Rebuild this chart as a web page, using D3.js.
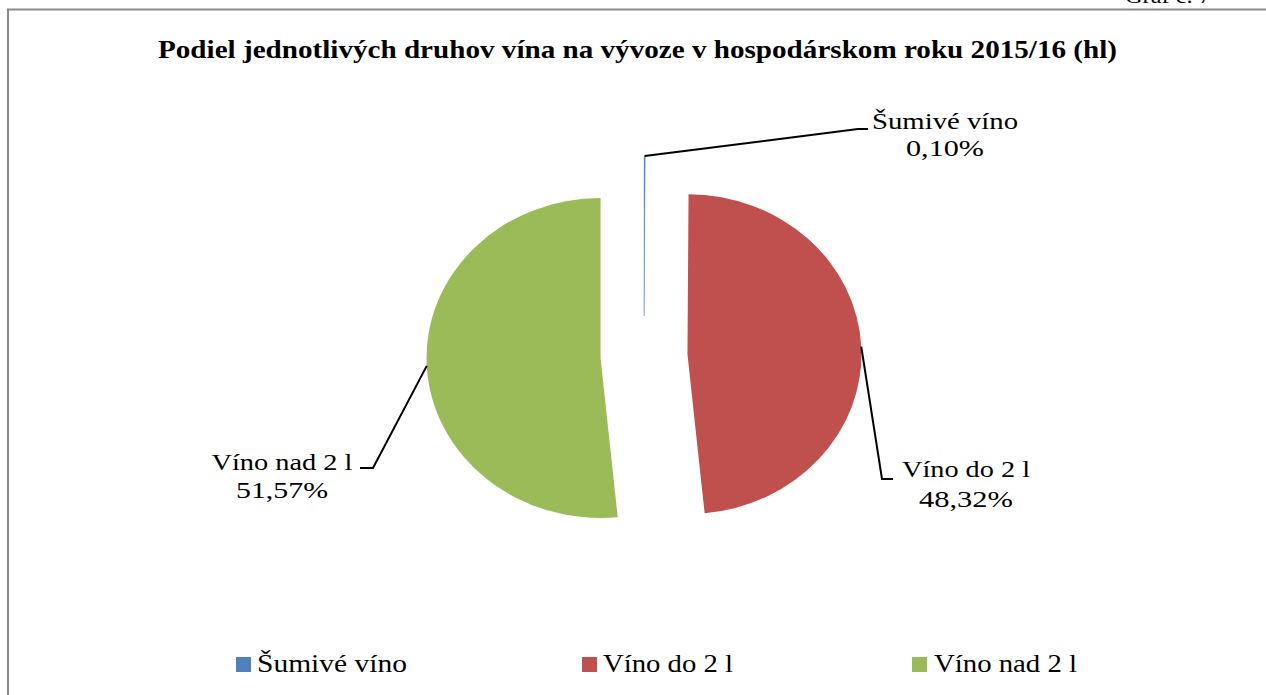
<!DOCTYPE html>
<html>
<head>
<meta charset="utf-8">
<script src="https://cdn.jsdelivr.net/npm/d3@7"></script>
<style>
  html, body { margin: 0; padding: 0; background: #fff; }
  svg { display: block; }
  text { font-family: "Liberation Serif", "Times New Roman", serif; fill: #000; }
</style>
</head>
<body>
<svg id="chart" width="1266" height="695"></svg>
<script>
// ---- data ----
const categories = ["Šumivé víno", "Víno do 2 l", "Víno nad 2 l"];
const shares = [0.10, 48.32, 51.57];
const colors = ["#4F81BD", "#C0504D", "#9BBB59"];
const titleText = "Podiel jednotlivých druhov vína na vývoze v hospodárskom roku 2015/16 (hl)";
const captionText = "Graf č. 7";

// ---- layout ----
const W = 1266, H = 695;
const cx = 644, cy = 356, R = 160, explode = 40, sx = 1.0875;
// label placement: elbow, end of leader, text anchor centre, baselines, text widths
const labelLayout = [
  { elbow: [858, 129], end: [868, 129], tx: 945, b1: 129, b2: 156, w1: 146, w2: 78 },
  { elbow: [882, 479], end: [893, 479], tx: 966, b1: 477, b2: 507, w1: 128, w2: 94 },
  { elbow: [373, 468], end: [360, 468], tx: 282, b1: 470, b2: 498, w1: 141, w2: 92 }
];
const legendLayout = [
  { sq: 236, tx: 257, w: 150 },
  { sq: 582, tx: 603, w: 130 },
  { sq: 912, tx: 934, w: 143 }
];

const fmt = v => d3.format(".2f")(v).replace(".", ",") + "%";

const svg = d3.select("#chart");

// caption (clipped at top)
svg.append("text").attr("x", 1125).attr("y", 3)
  .attr("font-size", 22).attr("textLength", 86).attr("lengthAdjust", "spacingAndGlyphs")
  .text(captionText);

// chart border
svg.append("rect").attr("x", 8).attr("y", 9.5).attr("width", W + 20).attr("height", H + 20)
  .attr("fill", "none").attr("stroke", "#8a8a8a").attr("stroke-width", 2);

// title
svg.append("text").attr("x", 637.5).attr("y", 58)
  .attr("text-anchor", "middle").attr("font-weight", "bold").attr("font-size", 25)
  .attr("textLength", 959).attr("lengthAdjust", "spacingAndGlyphs")
  .text(titleText);

// pie
const pie = d3.pie().sort(null).value(d => d)(shares);
const arc = d3.arc().innerRadius(0).outerRadius(R);
const g = svg.append("g").attr("transform", `translate(${cx},${cy}) scale(${sx},1)`);

function offset(d, r) {
  const a = (d.startAngle + d.endAngle) / 2;
  return [Math.sin(a) * r, -Math.cos(a) * r];
}

g.selectAll("path.slice").data(pie).join("path")
  .attr("class", "slice")
  .attr("transform", d => { const o = offset(d, explode); return `translate(${o[0]},${o[1]})`; })
  .attr("d", arc)
  .attr("fill", (d, i) => colors[i])
  .attr("stroke", (d, i) => i === 0 ? colors[i] : "none")
  .attr("stroke-opacity", 0.6)
  .attr("stroke-width", 0.7);

// leader lines and labels
pie.forEach((d, i) => {
  const o = offset(d, explode + R);
  const start = [cx + o[0] * sx, cy + o[1]];
  const L = labelLayout[i];
  svg.append("path")
    .attr("d", d3.line()([start, L.elbow, L.end]))
    .attr("fill", "none").attr("stroke", "#000").attr("stroke-width", 2);
  svg.append("text").attr("x", L.tx).attr("y", L.b1).attr("text-anchor", "middle")
    .attr("font-size", 24).attr("textLength", L.w1).attr("lengthAdjust", "spacingAndGlyphs")
    .text(categories[i]);
  svg.append("text").attr("x", L.tx).attr("y", L.b2).attr("text-anchor", "middle")
    .attr("font-size", 24).attr("textLength", L.w2).attr("lengthAdjust", "spacingAndGlyphs")
    .text(fmt(shares[i]));
});

// legend
categories.forEach((c, i) => {
  const L = legendLayout[i];
  svg.append("rect").attr("x", L.sq).attr("y", 657).attr("width", 15).attr("height", 15)
    .attr("fill", colors[i]);
  svg.append("text").attr("x", L.tx).attr("y", 672)
    .attr("font-size", 25).attr("textLength", L.w).attr("lengthAdjust", "spacingAndGlyphs")
    .text(c);
});
</script>
</body>
</html>
